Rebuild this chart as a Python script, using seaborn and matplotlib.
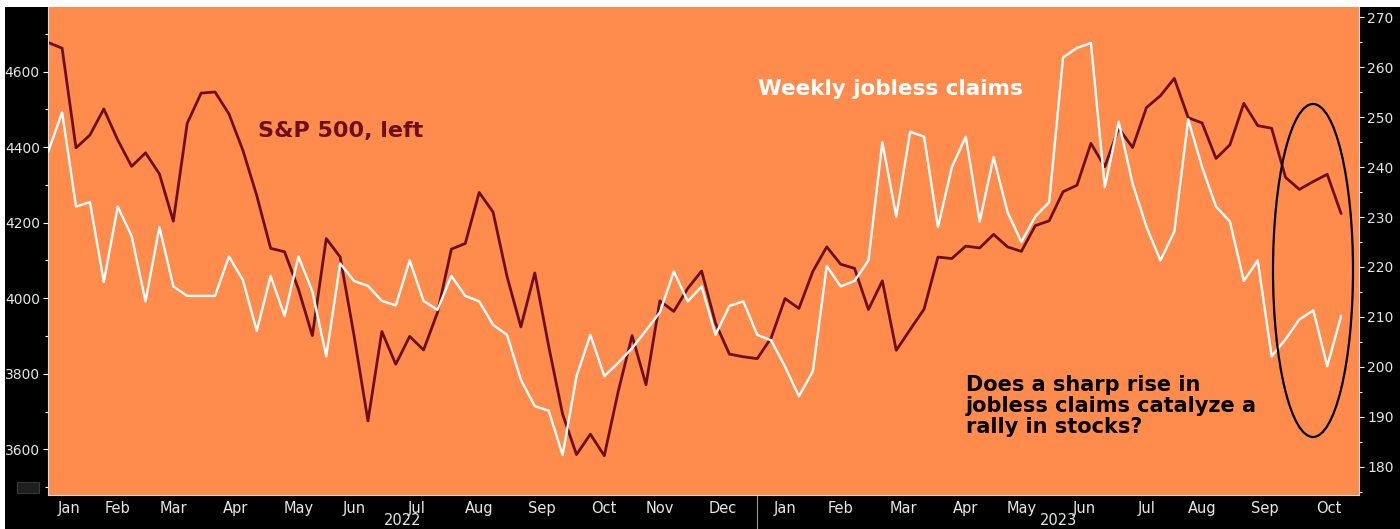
import matplotlib
matplotlib.use("Agg")
import matplotlib.dates as mdates
import matplotlib.pyplot as plt
import pandas as pd
import seaborn as sns
from matplotlib.lines import Line2D
from matplotlib.patches import Ellipse, Rectangle
from matplotlib.ticker import FixedLocator, NullFormatter
from matplotlib.transforms import blended_transform_factory

# weekly data, Jan 2022 - Oct 2023
weeks = pd.date_range("2022-01-07", periods=94, freq="W-FRI")

spx = [
    4677, 4662, 4398, 4432, 4501, 4419, 4349, 4385, 4329, 4204, 4463, 4543,
    4546, 4488, 4392, 4272, 4132, 4123, 4024, 3901, 4158, 4109, 3901, 3675,
    3912, 3825, 3899, 3863, 3962, 4130, 4145, 4280, 4228, 4058, 3924, 4067,
    3873, 3693, 3586, 3640, 3583, 3753, 3901, 3771, 3993, 3965, 4026, 4072,
    3934, 3852, 3845, 3840, 3895, 3999, 3973, 4071, 4136, 4090, 4079, 3970,
    4046, 3862, 3917, 3971, 4109, 4105, 4138, 4133, 4169, 4136, 4124, 4192,
    4205, 4282, 4299, 4410, 4348, 4450, 4399, 4505, 4536, 4582, 4478, 4464,
    4370, 4406, 4516, 4457, 4450, 4320, 4288, 4309, 4328, 4224,
]

claims = [
    243.1, 251.0, 232.1, 233.0, 217.0, 232.1, 226.2, 213.1, 228.0, 216.1,
    214.2, 214.2, 214.2, 222.1, 217.4, 207.2, 218.2, 210.2, 222.1, 215.1,
    202.1, 220.7, 217.2, 216.2, 213.2, 212.3, 221.3, 213.2, 211.4, 218.2,
    214.2, 213.1, 208.4, 206.4, 197.4, 192.1, 191.2, 182.3, 198.1, 206.4,
    198.1, 200.8, 203.7, 207.3, 210.9, 219.1, 213.1, 216.1, 206.4, 212.2,
    213.1, 206.4, 205.3, 200.0, 194.1, 199.1, 220.2, 216.1, 217.2, 221.3,
    245.0, 230.1, 247.1, 246.1, 228.0, 240.0, 246.1, 229.1, 242.0, 231.0,
    225.0, 230.1, 233.0, 262.0, 263.9, 264.9, 236.0, 249.1, 236.7, 228.0,
    221.3, 227.1, 249.6, 240.0, 232.1, 229.1, 217.2, 221.3, 202.1, 205.5,
    209.5, 211.3, 200.1, 210.2,
]

spx_major = [3600, 3800, 4000, 4200, 4400, 4600]
spx_minor = [3500, 3700, 3900, 4100, 4300, 4500, 4700]
claims_major = [180, 190, 200, 210, 220, 230, 240, 250, 260, 270]
claims_minor = [175, 185, 195, 205, 215, 225, 235, 245, 255, 265]

ORANGE = "#FF8B4D"
MAROON = "#6B0F1F"
TICK = "#e6e6e6"

W, H = 1400, 529

sns.set_theme(style="white")
plt.rcParams["font.family"] = ["DejaVu Sans"]

fig = plt.figure(figsize=(W / 100, H / 100), dpi=100, facecolor="white")
# black panel with thin white margin top/left
fig.add_artist(Rectangle((5 / W, 0), 1, (H - 7) / H, transform=fig.transFigure,
                         facecolor="black", edgecolor="none", zorder=-10))

left, right, top, bottom = 48.2, 1359, 7, 495
ax = fig.add_axes([left / W, 1 - bottom / H, (right - left) / W, (bottom - top) / H])
ax.set_facecolor(ORANGE)

df = pd.DataFrame({"week": weeks, "spx": spx, "claims": claims})
sns.lineplot(data=df, x="week", y="spx", ax=ax, color=MAROON, linewidth=2.0)
ax2 = ax.twinx()
sns.lineplot(data=df, x="week", y="claims", ax=ax2, color="white", linewidth=1.7)

x0 = weeks[0]
x1 = weeks[0] + pd.Timedelta(days=660)
ax.set_xlim(mdates.date2num(x0), mdates.date2num(x1))
ax.set_ylim(3479, 4771)
ax2.set_ylim(174.3, 272.1)

for a in (ax, ax2):
    a.set(xlabel="", ylabel="")
    a.grid(False)
    for s in a.spines.values():
        s.set_visible(False)
ax.spines["left"].set_visible(True)
ax.spines["bottom"].set_visible(True)
ax2.spines["right"].set_visible(True)
for s in (ax.spines["left"], ax.spines["bottom"], ax2.spines["right"]):
    s.set_color("#d8d8d8")
    s.set_linewidth(0.8)

# y ticks
ax.yaxis.set_major_locator(FixedLocator(spx_major))
ax.yaxis.set_minor_locator(FixedLocator(spx_minor))
ax.set_yticklabels([str(v) for v in spx_major])
ax2.yaxis.set_major_locator(FixedLocator(claims_major))
ax2.yaxis.set_minor_locator(FixedLocator(claims_minor))
ax2.set_yticklabels([str(v) for v in claims_major])
for a in (ax, ax2):
    a.tick_params(axis="y", which="major", length=3.5, width=0.8, color="white",
                  labelcolor=TICK, labelsize=10, pad=2.5, direction="out")
    a.tick_params(axis="y", which="minor", length=2, width=0.8, color="white",
                  direction="out")

# month ticks at last week of each month, labels centred between them
ends = [i for i in range(len(weeks) - 1) if weeks[i].month != weeks[i + 1].month]
bounds = [x0] + [weeks[i] for i in ends] + [x1]
mids = [a + (b - a) / 2 for a, b in zip(bounds[:-1], bounds[1:])]
names = [weeks[0].strftime("%b")] + [weeks[i + 1].strftime("%b") for i in ends]
ax.xaxis.set_major_locator(FixedLocator(mdates.date2num([weeks[i] for i in ends])))
ax.xaxis.set_major_formatter(NullFormatter())
ax.xaxis.set_minor_locator(FixedLocator(mdates.date2num(mids)))
ax.set_xticklabels(names, minor=True)
ax.tick_params(axis="x", which="major", length=2.5, width=0.8, color="#bbbbbb",
               direction="out")
ax.tick_params(axis="x", which="minor", length=0, labelcolor=TICK, labelsize=10.5,
               pad=4)

# year labels and separator
trans = blended_transform_factory(ax.transData, ax.transAxes)
yr_end = [i for i in ends if weeks[i].month == 12][0]
sep = mdates.date2num(weeks[yr_end])
ax.add_line(Line2D([sep, sep], [0, -(H - bottom) / (bottom - top)], transform=trans,
                   color="#9a9a9a", lw=0.8, clip_on=False))
for a, b, yr in [(x0, weeks[yr_end], "2022"), (weeks[yr_end], x1, "2023")]:
    xm = mdates.date2num(a + (b - a) / 2)
    ax.text(xm, -(528 - bottom) / (bottom - top), yr, transform=trans, ha="center",
            va="bottom", color=TICK, fontsize=10.5, clip_on=False)

# annotations
fig.text(258 / W, 1 - 131 / H, "S&P 500, left", color=MAROON, fontsize=16,
         fontweight="bold", ha="left", va="center")
fig.text(758 / W, 1 - 89 / H, "Weekly jobless claims", color="white", fontsize=15.5,
         fontweight="bold", ha="left", va="center")
fig.text(966 / W, 1 - 406 / H,
         "Does a sharp rise in\njobless claims catalyze a\nrally in stocks?",
         color="black", fontsize=15, fontweight="bold", ha="left", va="center",
         linespacing=1.08)
fig.add_artist(Ellipse((1313 / W, 1 - 270.5 / H), 80 / W, 333 / H,
                       transform=fig.transFigure, fill=False, edgecolor="black", lw=1.6))

# small chart icon bottom-left
fig.add_artist(Rectangle((17 / W, 1 - 493 / H), 22 / W, 11 / H, transform=fig.transFigure,
                         facecolor="#1f1f1f", edgecolor="#3a3a3a", lw=0.8))

fig.savefig("out.png", dpi=100, facecolor=fig.get_facecolor())
